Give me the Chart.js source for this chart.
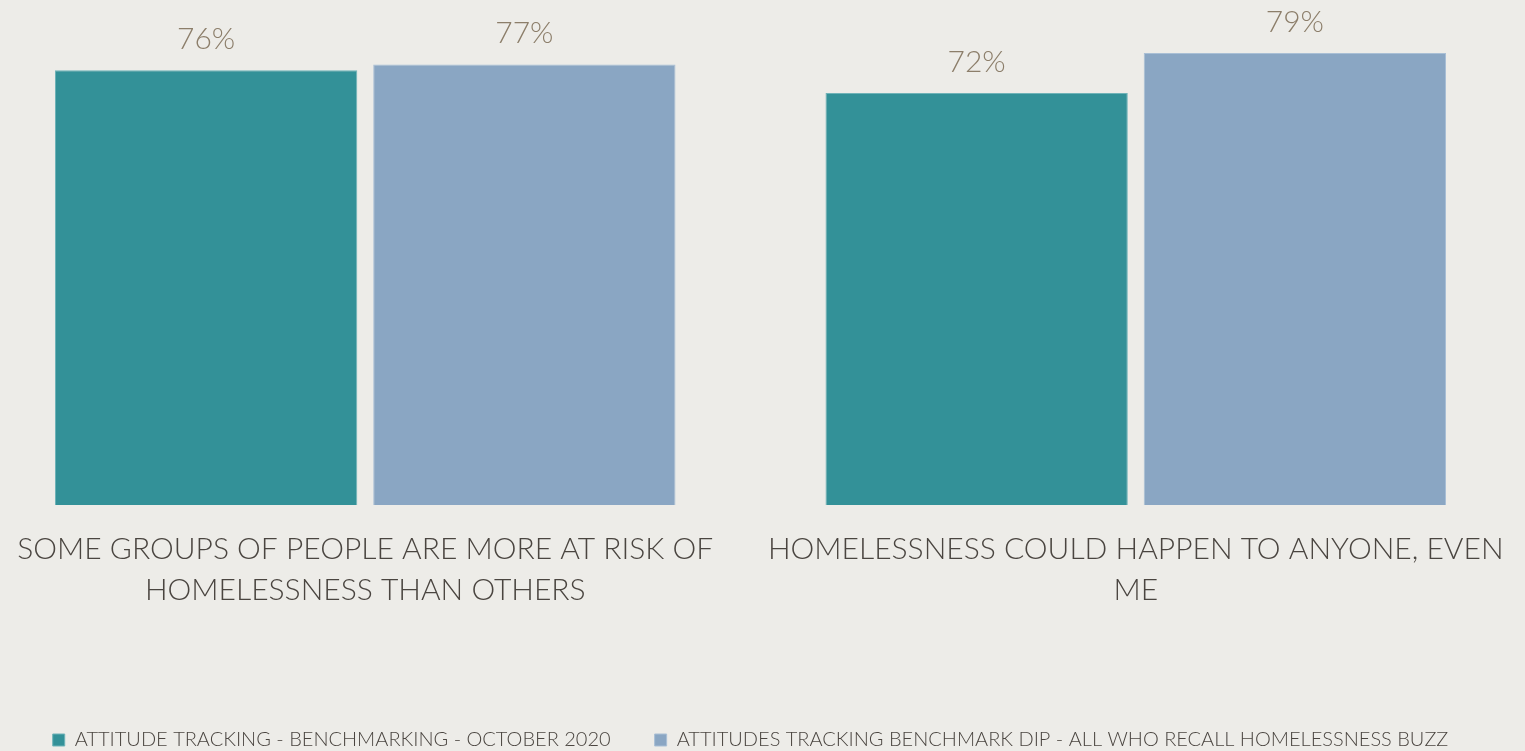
<!DOCTYPE html>
<html>
<head>
<meta charset="utf-8">
<script src="https://cdn.jsdelivr.net/npm/chart.js@4.4.1/dist/chart.umd.min.js"></script>
<style>
  html, body { margin: 0; padding: 0; background: #edece8; overflow: hidden; }
  #wrap { position: absolute; left: -20px; top: 0; width: 1541px; height: 760px; }
</style>
</head>
<body>
<div id="wrap"><canvas id="cs"></canvas></div>
<script>
var categories = [
  ["SOME GROUPS OF PEOPLE ARE MORE AT RISK OF", "HOMELESSNESS THAN OTHERS"],
  ["HOMELESSNESS COULD HAPPEN TO ANYONE, EVEN", "ME"]
];
var seriesNames = [
  "ATTITUDE TRACKING - BENCHMARKING - OCTOBER 2020",
  "ATTITUDES TRACKING BENCHMARK DIP - ALL WHO RECALL HOMELESSNESS BUZZ"
];
var benchmark = [76, 72];
var recallBuzz = [77, 79];

var FONT = "Lato";

// draws the "76%" labels above each bar
var valueLabels = {
  id: "valueLabels",
  afterDatasetsDraw: function (chart) {
    var c = chart.ctx;
    c.save();
    c.font = "300 30px " + FONT;
    c.fillStyle = "#8c7e6a";
    c.textAlign = "center";
    c.textBaseline = "alphabetic";
    chart.data.datasets.forEach(function (ds, i) {
      chart.getDatasetMeta(i).data.forEach(function (bar, j) {
        c.fillText(ds.data[j] + "%", bar.x, bar.y - 21);
      });
    });
    c.restore();
  }
};

var ctx = document.getElementById("cs");
new Chart(ctx, {
  type: "bar",
  data: {
    labels: categories,
    datasets: [{
      label: seriesNames[0],
      data: benchmark,
      backgroundColor: "#339198",
      borderColor: "#6fb3b8",
      borderWidth: 1,
      barPercentage: 0.95,
      categoryPercentage: 0.826
    }, {
      label: seriesNames[1],
      data: recallBuzz,
      backgroundColor: "#8aa6c3",
      borderColor: "#a9bfd5",
      borderWidth: 1,
      barPercentage: 0.95,
      categoryPercentage: 0.826
    }]
  },
  options: {
    responsive: true,
    maintainAspectRatio: false,
    animation: false,
    layout: { padding: { top: 13, left: 0, right: 0, bottom: 0 } },
    scales: {
      y: { display: false, min: 0, max: 86 },
      x: {
        grid: { display: false },
        border: { display: false },
        ticks: {
          color: "#4a4540",
          padding: 16,
          maxRotation: 0,
          font: { family: FONT, size: 30, weight: "300", lineHeight: 1.37 }
        },
        afterFit: function (scale) { scale.height = 181; }
      }
    },
    plugins: {
      legend: {
        position: "bottom",
        labels: {
          color: "#4a4540",
          boxWidth: 12,
          boxHeight: 12,
          padding: 44,
          font: { family: FONT, size: 20, weight: "300" }
        }
      },
      tooltip: { enabled: false }
    }
  },
  plugins: [valueLabels]
});
</script>
</body>
</html>
